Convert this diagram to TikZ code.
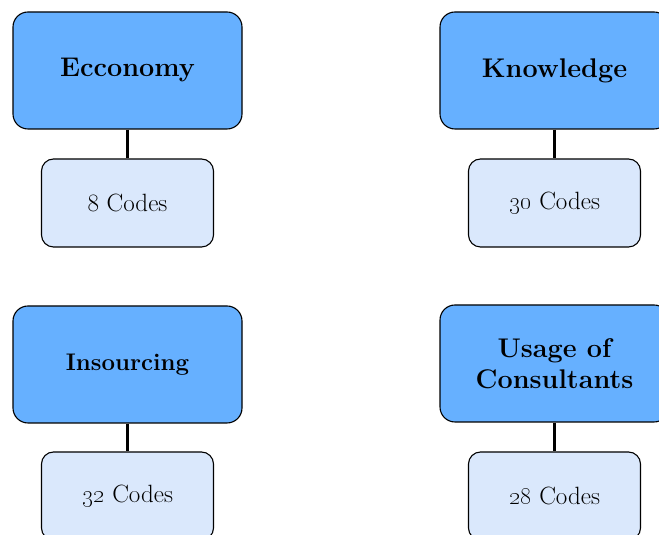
\documentclass[tikz,border=0pt]{standalone}
\begin{document}
\begin{tikzpicture}[x=1pt,y=1pt,
  bigbox/.style={draw=black, line width=1.1pt, fill=bigblue, rounded corners=15pt,
    minimum width=229pt, minimum height=117pt, inner sep=0pt, align=center,
    font=\fontsize{27}{31}\selectfont\bfseries},
  smallbox/.style={draw=black, line width=1.1pt, fill=smallblue, rounded corners=12pt,
    minimum width=172pt, minimum height=88pt, inner sep=0pt, align=center,
    font=\fontsize{25}{28}\selectfont},
  link/.style={draw=black, line width=2.4pt}]
\definecolor{bigblue}{HTML}{66B0FF}
\definecolor{smallblue}{HTML}{DAE8FC}
\useasboundingbox (0,0) rectangle (659,535);
\clip (0,0) rectangle (659,535);
% top row
\node[bigbox] (eco) at (127.5,464.5) {Ecconomy};
\node[smallbox] (ecoc) at (127.5,332) {8 Codes};
\node[bigbox] (know) at (554.5,464.5) {Knowledge};
\node[smallbox] (knowc) at (554.5,332) {\oldstylenums{30} Codes};
% bottom row
\node[bigbox, font=\fontsize{24}{28}\selectfont\bfseries] (ins) at (127.5,170.5) {Insourcing};
\node[smallbox] (insc) at (127.5,39) {\oldstylenums{32} Codes};
\node[bigbox] (cons) at (554.5,171.5) {Usage of\\Consultants};
\node[smallbox] (consc) at (554.5,39) {\oldstylenums{28} Codes};
\draw[link] (eco) -- (ecoc);
\draw[link] (know) -- (knowc);
\draw[link] (ins) -- (insc);
\draw[link] (cons) -- (consc);
\end{tikzpicture}
\end{document}
